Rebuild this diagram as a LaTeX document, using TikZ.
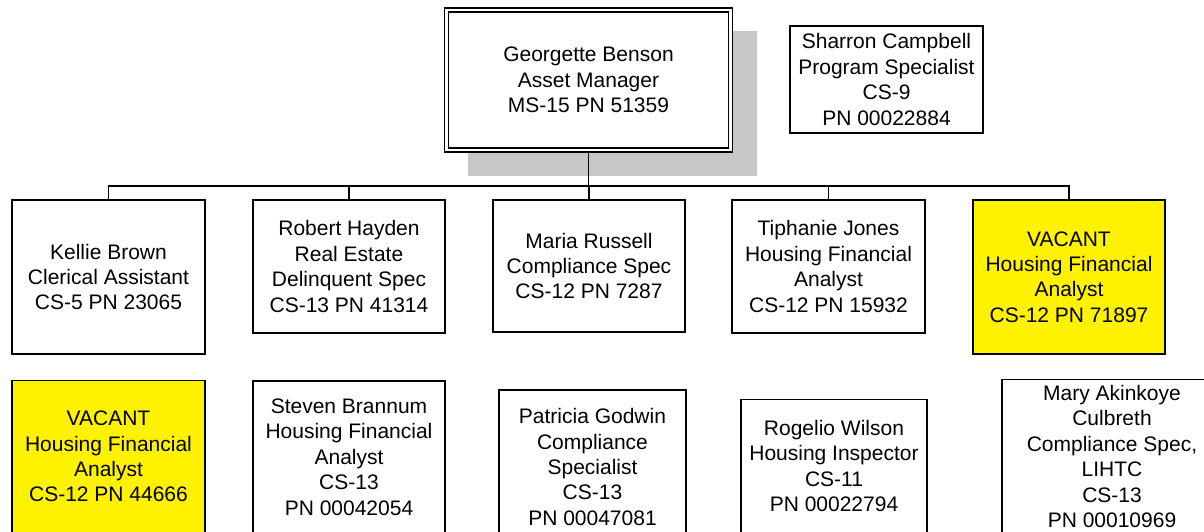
\documentclass[tikz,border=0pt]{standalone}
\usepackage{fontspec}
\setmainfont{Liberation Sans}
\begin{document}
\begin{tikzpicture}[x=0.5pt, y=-0.5pt,
    post/.style={draw, line width=0.6pt, rectangle, align=center, inner sep=0pt,
      font=\fontsize{10.5}{12.7}\selectfont},
    link/.style={line width=0.6pt}]
  \useasboundingbox (0,0) rectangle (1204,531);
  \clip (0,0) rectangle (1204,531);

  \fill[black!22] (468,31) rectangle (757,176);
  \node[post, fill=white, double, double distance=1.4pt, minimum width=142pt, minimum height=70pt] (boss) at (588.5,80) {Georgette Benson\\Asset Manager\\MS-15 PN 51359};
  \node[post, minimum width=96.5pt, minimum height=53.5pt] (sharron) at (886.5,79.5) {Sharron Campbell\\Program Specialist\\CS-9\\PN 00022884};

  \foreach \nm/\cx/\cy/\bw/\bh/\col/\txt in {
      kellie/108.5/277/96.5/77/white/{Kellie Brown\\Clerical Assistant\\CS-5 PN 23065},
      robert/349/266.5/96/66.5/white/{Robert Hayden\\Real Estate\\Delinquent Spec\\CS-13 PN 41314},
      maria/589/266/96/66/white/{Maria Russell\\Compliance Spec\\CS-12 PN 7287},
      tiphanie/828.5/266.5/96.5/66.5/white/{Tiphanie Jones\\Housing Financial\\Analyst\\CS-12 PN 15932},
      vacanta/1069/277/96/77/yellow/{VACANT\\Housing Financial\\Analyst\\CS-12 PN 71897},
      vacantb/108.5/456.5/96.5/76/yellow/{VACANT\\Housing Financial\\Analyst\\CS-12 PN 44666},
      steven/349/457/96/76/white/{Steven Brannum\\Housing Financial\\Analyst\\CS-13\\PN 00042054},
      patricia/592.5/467/93.5/77/white/{Patricia Godwin\\Compliance\\Specialist\\CS-13\\PN 00047081},
      rogelio/834/466/93/66.5/white/{Rogelio Wilson\\Housing Inspector\\CS-11\\PN 00022794},
      mary/1112/456.5/110/77/white/{Mary Akinkoye\\Culbreth\\Compliance Spec,\\LIHTC\\CS-13\\PN 00010969}} {
    \node[post, fill=\col, minimum width=\bw pt, minimum height=\bh pt] (\nm) at (\cx,\cy) {\txt};
  }

  \coordinate (bus) at (0,186);
  \draw[link] (boss.south) -- (boss.south |- bus);
  \draw[link] (kellie.north) -- (kellie.north |- bus) -| (vacanta.north);
  \foreach \nm in {robert, maria, tiphanie} {
    \draw[link] (\nm.north) -- (\nm.north |- bus);
  }
\end{tikzpicture}
\end{document}
